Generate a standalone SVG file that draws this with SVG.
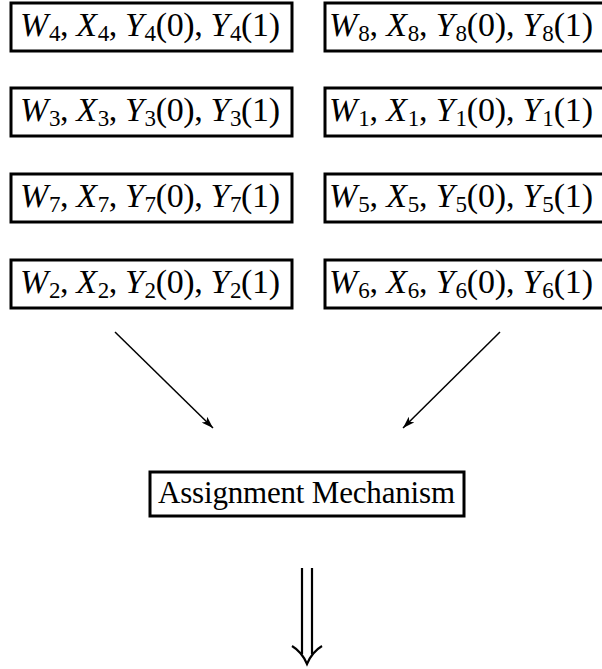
<svg xmlns="http://www.w3.org/2000/svg" width="602" height="669" viewBox="0 0 602 669">
  <style>
    .box { fill: #fff; stroke: #000; stroke-width: 3; }
    .m { font-family: "Liberation Serif", "DejaVu Serif", serif; font-size: 34px; fill: #000; }
    .i { font-style: italic; }
    .s { font-size: 23px; }
    .lbl { font-family: "Liberation Serif", "DejaVu Serif", serif; font-size: 31px; fill: #000; }
    .edge { stroke: #000; stroke-width: 1.5; fill: none; }
    .dbl { stroke: #000; stroke-width: 2.2; fill: none; }
  </style>
  <defs>
    <marker id="arrow" viewBox="0 0 12 8" refX="12" refY="4" markerWidth="12" markerHeight="8" markerUnits="userSpaceOnUse" orient="auto">
      <path d="M0,0 L12,4 L0,8 L3,4 Z" fill="#000"/>
    </marker>
  </defs>

  <!-- left column -->
  <g id="unit4">
    <rect class="box" x="11" y="3" width="281" height="48"/>
    <text class="m" x="20" y="36" textLength="260" lengthAdjust="spacing"><tspan class="i">W</tspan><tspan class="s" dx="1" dy="5">4</tspan><tspan dy="-5">, </tspan><tspan class="i">X</tspan><tspan class="s" dx="1" dy="5">4</tspan><tspan dy="-5">, </tspan><tspan class="i">Y</tspan><tspan class="s" dx="1" dy="5">4</tspan><tspan dy="-5">(0), </tspan><tspan class="i">Y</tspan><tspan class="s" dx="1" dy="5">4</tspan><tspan dy="-5">(1)</tspan></text>
  </g>
  <g id="unit3">
    <rect class="box" x="11" y="88" width="281" height="48"/>
    <text class="m" x="20" y="121" textLength="260" lengthAdjust="spacing"><tspan class="i">W</tspan><tspan class="s" dx="1" dy="5">3</tspan><tspan dy="-5">, </tspan><tspan class="i">X</tspan><tspan class="s" dx="1" dy="5">3</tspan><tspan dy="-5">, </tspan><tspan class="i">Y</tspan><tspan class="s" dx="1" dy="5">3</tspan><tspan dy="-5">(0), </tspan><tspan class="i">Y</tspan><tspan class="s" dx="1" dy="5">3</tspan><tspan dy="-5">(1)</tspan></text>
  </g>
  <g id="unit7">
    <rect class="box" x="11" y="174" width="281" height="48"/>
    <text class="m" x="20" y="207" textLength="260" lengthAdjust="spacing"><tspan class="i">W</tspan><tspan class="s" dx="1" dy="5">7</tspan><tspan dy="-5">, </tspan><tspan class="i">X</tspan><tspan class="s" dx="1" dy="5">7</tspan><tspan dy="-5">, </tspan><tspan class="i">Y</tspan><tspan class="s" dx="1" dy="5">7</tspan><tspan dy="-5">(0), </tspan><tspan class="i">Y</tspan><tspan class="s" dx="1" dy="5">7</tspan><tspan dy="-5">(1)</tspan></text>
  </g>
  <g id="unit2">
    <rect class="box" x="11" y="260" width="281" height="48"/>
    <text class="m" x="20" y="293" textLength="260" lengthAdjust="spacing"><tspan class="i">W</tspan><tspan class="s" dx="1" dy="5">2</tspan><tspan dy="-5">, </tspan><tspan class="i">X</tspan><tspan class="s" dx="1" dy="5">2</tspan><tspan dy="-5">, </tspan><tspan class="i">Y</tspan><tspan class="s" dx="1" dy="5">2</tspan><tspan dy="-5">(0), </tspan><tspan class="i">Y</tspan><tspan class="s" dx="1" dy="5">2</tspan><tspan dy="-5">(1)</tspan></text>
  </g>

  <!-- right column -->
  <g id="unit8">
    <rect class="box" x="325" y="3" width="290" height="48"/>
    <text class="m" x="329" y="36" textLength="264" lengthAdjust="spacing"><tspan class="i">W</tspan><tspan class="s" dx="1" dy="5">8</tspan><tspan dy="-5">, </tspan><tspan class="i">X</tspan><tspan class="s" dx="1" dy="5">8</tspan><tspan dy="-5">, </tspan><tspan class="i">Y</tspan><tspan class="s" dx="1" dy="5">8</tspan><tspan dy="-5">(0), </tspan><tspan class="i">Y</tspan><tspan class="s" dx="1" dy="5">8</tspan><tspan dy="-5">(1)</tspan></text>
  </g>
  <g id="unit1">
    <rect class="box" x="325" y="88" width="290" height="48"/>
    <text class="m" x="329" y="121" textLength="264" lengthAdjust="spacing"><tspan class="i">W</tspan><tspan class="s" dx="1" dy="5">1</tspan><tspan dy="-5">, </tspan><tspan class="i">X</tspan><tspan class="s" dx="1" dy="5">1</tspan><tspan dy="-5">, </tspan><tspan class="i">Y</tspan><tspan class="s" dx="1" dy="5">1</tspan><tspan dy="-5">(0), </tspan><tspan class="i">Y</tspan><tspan class="s" dx="1" dy="5">1</tspan><tspan dy="-5">(1)</tspan></text>
  </g>
  <g id="unit5">
    <rect class="box" x="325" y="174" width="290" height="48"/>
    <text class="m" x="329" y="207" textLength="264" lengthAdjust="spacing"><tspan class="i">W</tspan><tspan class="s" dx="1" dy="5">5</tspan><tspan dy="-5">, </tspan><tspan class="i">X</tspan><tspan class="s" dx="1" dy="5">5</tspan><tspan dy="-5">, </tspan><tspan class="i">Y</tspan><tspan class="s" dx="1" dy="5">5</tspan><tspan dy="-5">(0), </tspan><tspan class="i">Y</tspan><tspan class="s" dx="1" dy="5">5</tspan><tspan dy="-5">(1)</tspan></text>
  </g>
  <g id="unit6">
    <rect class="box" x="325" y="260" width="290" height="48"/>
    <text class="m" x="329" y="293" textLength="264" lengthAdjust="spacing"><tspan class="i">W</tspan><tspan class="s" dx="1" dy="5">6</tspan><tspan dy="-5">, </tspan><tspan class="i">X</tspan><tspan class="s" dx="1" dy="5">6</tspan><tspan dy="-5">, </tspan><tspan class="i">Y</tspan><tspan class="s" dx="1" dy="5">6</tspan><tspan dy="-5">(0), </tspan><tspan class="i">Y</tspan><tspan class="s" dx="1" dy="5">6</tspan><tspan dy="-5">(1)</tspan></text>
  </g>

  <!-- mechanism -->
  <g id="mechanism">
    <rect class="box" x="150" y="472" width="314" height="44"/>
    <text class="lbl" x="158" y="503" textLength="297" lengthAdjust="spacing">Assignment Mechanism</text>
  </g>

  <!-- connectors -->
  <g id="connectors">
    <line class="edge" x1="115" y1="332" x2="213" y2="428" marker-end="url(#arrow)"/>
    <line class="edge" x1="500" y1="332" x2="403" y2="428" marker-end="url(#arrow)"/>
    <!-- double-shafted downward arrow -->
    <line class="dbl" x1="302" y1="568" x2="302" y2="654"/>
    <line class="dbl" x1="312" y1="568" x2="312" y2="654"/>
    <path class="dbl" d="M292,646 Q302,652 307,664 Q312,652 322,646"/>
  </g>
</svg>
